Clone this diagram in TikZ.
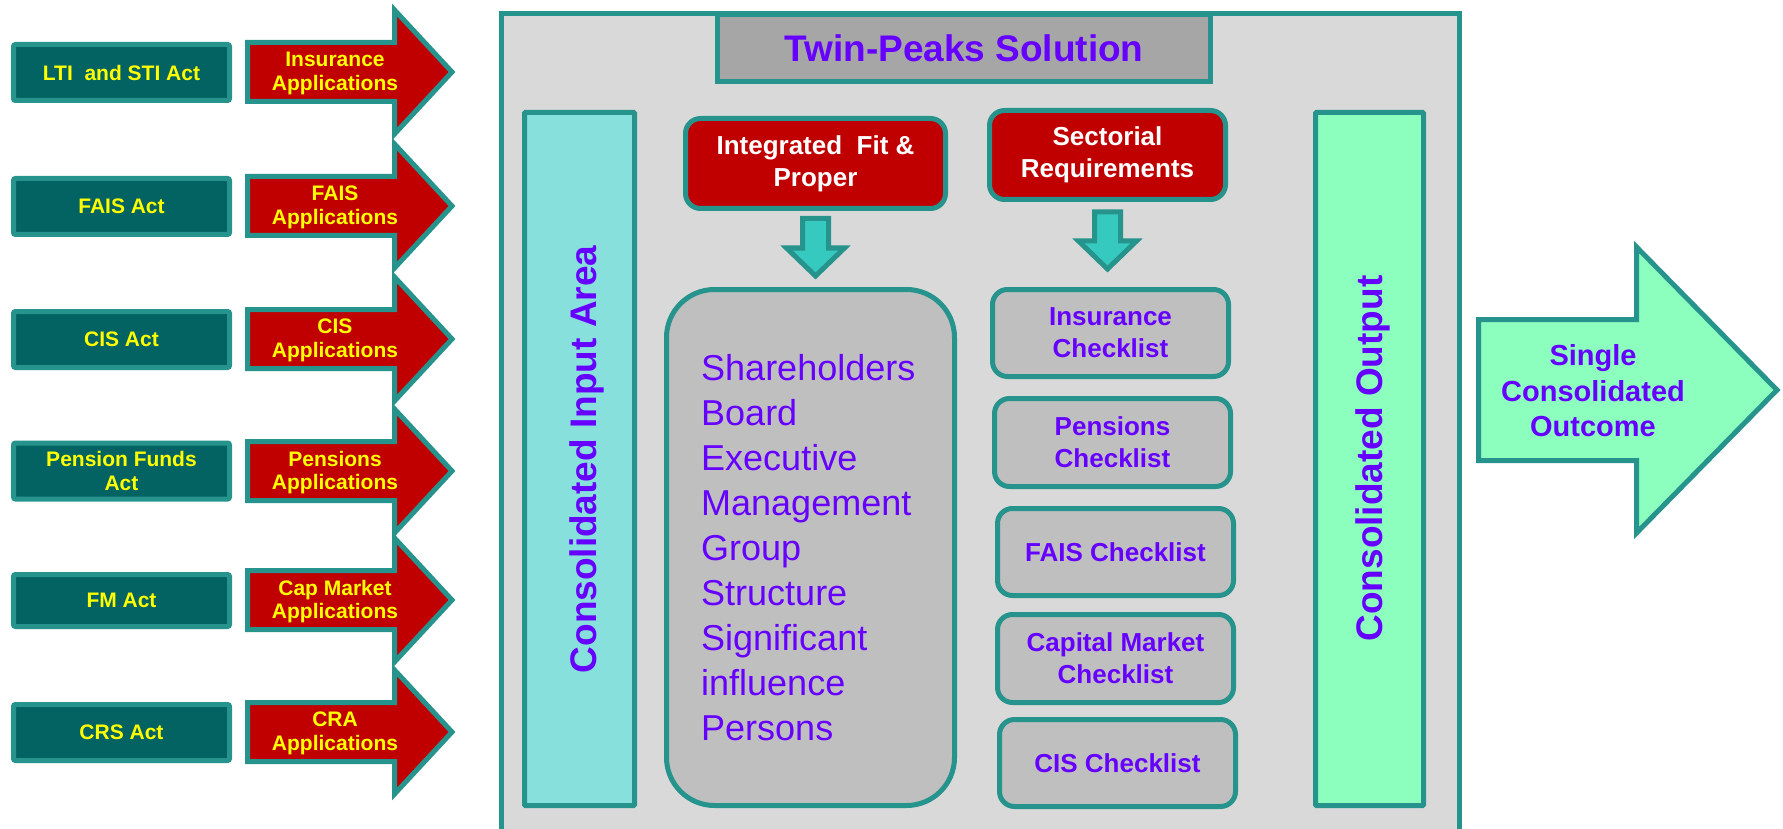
\documentclass[tikz,border=0pt]{standalone}
\usepackage{fontspec}
\setmainfont{Liberation Sans}
\usetikzlibrary{calc}

\definecolor{tealline}{HTML}{26948C}
\definecolor{actfill}{HTML}{036262}
\definecolor{redfill}{HTML}{C00000}
\definecolor{yeltext}{HTML}{FFFF00}
\definecolor{purp}{HTML}{6600FF}
\definecolor{panelfill}{HTML}{D9D9D9}
\definecolor{titlefill}{HTML}{A6A6A6}
\definecolor{boxgray}{HTML}{BFBFBF}
\definecolor{incol}{HTML}{88E0DC}
\definecolor{outcol}{HTML}{8CFFBF}
\definecolor{dnfill}{HTML}{36C9C0}

\tikzset{
  actbox/.style={draw=tealline, fill=actfill, line width=5pt, inner sep=0pt,
    minimum width=216pt, minimum height=56pt, rounded corners=2pt,
    text=yeltext, align=center, font=\bfseries\fontsize{21}{23.5}\selectfont},
  apptext/.style={inner sep=0pt, text=yeltext, align=center,
    font=\bfseries\fontsize{21}{23.5}\selectfont},
  apparrowstyle/.style={draw=tealline, fill=redfill, line width=5pt, line join=miter},
  redbox/.style={draw=tealline, fill=redfill, line width=5pt, inner sep=0pt,
    rounded corners=15pt, text=white, align=center,
    font=\bfseries\fontsize{26}{32}\selectfont},
  chkbox/.style={draw=tealline, fill=boxgray, line width=5pt, inner sep=0pt,
    minimum width=236pt, rounded corners=15pt, text=purp, align=center,
    font=\bfseries\fontsize{26}{32}\selectfont},
  column/.style={draw=tealline, line width=5pt, inner sep=0pt,
    minimum width=110pt, minimum height=693pt, rounded corners=1pt},
  coltext/.style={inner sep=0pt, text=purp, rotate=90, anchor=base,
    font=\bfseries\fontsize{37}{44}\selectfont},
  dnstyle/.style={draw=tealline, fill=dnfill, line width=5pt, line join=miter},
  outarrowstyle/.style={draw=tealline, fill=outcol, line width=5pt, line join=miter},
}

% block arrow pointing right, centred on the given line
\newcommand{\apparrow}[1]{%
  \draw[apparrowstyle] (247.5,#1-29.5) -- (394.5,#1-29.5) -- (394.5,#1-62)
    -- (452,#1) -- (394.5,#1+62) -- (394.5,#1+29.5) -- (247.5,#1+29.5) -- cycle;}

% block arrow pointing down from one node to another
\newcommand{\dnblock}[4]{%
  \draw[dnstyle] let \p1=(#1.south), \p2=(#2.north) in
    (\x1-13pt,\y1-#3) -- (\x1+13pt,\y1-#3) -- (\x1+13pt,\y2+#4+28pt)
    -- (\x1+29pt,\y2+#4+28pt) -- (\x1,\y2+#4) -- (\x1-29pt,\y2+#4+28pt)
    -- (\x1-13pt,\y2+#4+28pt) -- cycle;}

\begin{document}
\begin{tikzpicture}[x=1pt,y=-1pt]
\useasboundingbox (0,0) rectangle (1783,829);
\clip (0,0) rectangle (1783,829);
\fill[white] (0,0) rectangle (1783,829);

% ---- acts and their application streams ----
\node[actbox] (act1) at (121.5,72.5) {LTI \ and STI Act};
\node[actbox] (act2) at (121.5,206.5) {FAIS Act};
\node[actbox] (act3) at (121.5,339.5) {CIS Act};
\node[actbox] (act4) at (121.5,471) {Pension Funds\\Act};
\node[actbox, minimum height=52pt] (act5) at (121.5,600.5) {FM Act};
\node[actbox] (act6) at (121.5,732.5) {CRS Act};

\apparrow{72}
\apparrow{206}
\apparrow{339}
\apparrow{471}
\apparrow{600}
\apparrow{732}

\node[apptext] (app1) at (335,73.5) {Insurance\\Applications};
\node[apptext] (app2) at (335,207.5) {FAIS\\Applications};
\node[apptext] (app3) at (335,340.5) {CIS\\Applications};
\node[apptext] (app4) at (335,472.5) {Pensions\\Applications};
\node[apptext] (app5) at (335,601.5) {Cap Market\\Applications};
\node[apptext] (app6) at (335,733.5) {CRA\\Applications};

% ---- central panel ----
\node[draw=tealline, fill=panelfill, line width=5pt, inner sep=0pt, anchor=north west,
      minimum width=958pt, minimum height=900pt] (panel) at (498.5,11.5) {};

\node[draw=tealline, fill=titlefill, line width=5pt, inner sep=0pt,
      minimum width=493pt, minimum height=67pt, text=purp,
      font=\bfseries\fontsize{37}{44}\selectfont] (title) at (964,48) {Twin-Peaks Solution};

\node[column, fill=incol] (incolumn) at (579.5,459) {};
\node[coltext] (inlabel) at (596,459.5) {Consolidated Input Area};

\node[redbox, minimum width=260pt, minimum height=90pt] (fit) at (815.5,163.5)
  {Integrated \ Fit \&\\Proper};
\node[redbox, minimum width=236pt, minimum height=89pt] (sect) at (1107.5,155)
  {Sectorial\\Requirements};

\node[draw=tealline, fill=boxgray, line width=5pt, inner sep=0pt, rounded corners=48pt,
      minimum width=288pt, minimum height=516pt] (big) at (810.5,547.5) {};
\node[inner sep=0pt, anchor=north west, align=left, text=purp,
      font=\fontsize{36}{45}\selectfont] (roles) at (701,354.5)
  {Shareholders\\Board\\Executive\\Management\\Group\\Structure\\Significant\\influence\\Persons};

\node[chkbox, minimum height=87pt] (ins) at (1110.5,333) {Insurance\\Checklist};
\node[chkbox, minimum height=88pt] (pen) at (1112.5,442.5) {Pensions\\Checklist};
\node[chkbox, minimum height=87pt] (fais) at (1115.5,552) {FAIS Checklist};
\node[chkbox, minimum height=88pt] (cap) at (1115.5,658.5) {Capital Market\\Checklist};
\node[chkbox, minimum height=87pt] (cis) at (1117.5,763) {CIS Checklist};

\dnblock{fit}{big}{7.5pt}{11pt}
\dnblock{sect}{ins}{10pt}{18pt}

\node[column, fill=outcol, minimum width=108pt] (outcolumn) at (1369.5,459) {};
\node[coltext] (outlabel) at (1382,458.5) {Consolidated Output};

% ---- final outcome ----
\draw[outarrowstyle] (1478.5,319.5) -- (1636.5,319.5) -- (1636.5,247) -- (1777,390)
  -- (1636.5,533) -- (1636.5,460.5) -- (1478.5,460.5) -- cycle;
\node[inner sep=0pt, align=center, text=purp,
      font=\bfseries\fontsize{29}{35.5}\selectfont] (outcome) at (1593,391)
  {Single\\Consolidated\\Outcome};
\end{tikzpicture}
\end{document}
